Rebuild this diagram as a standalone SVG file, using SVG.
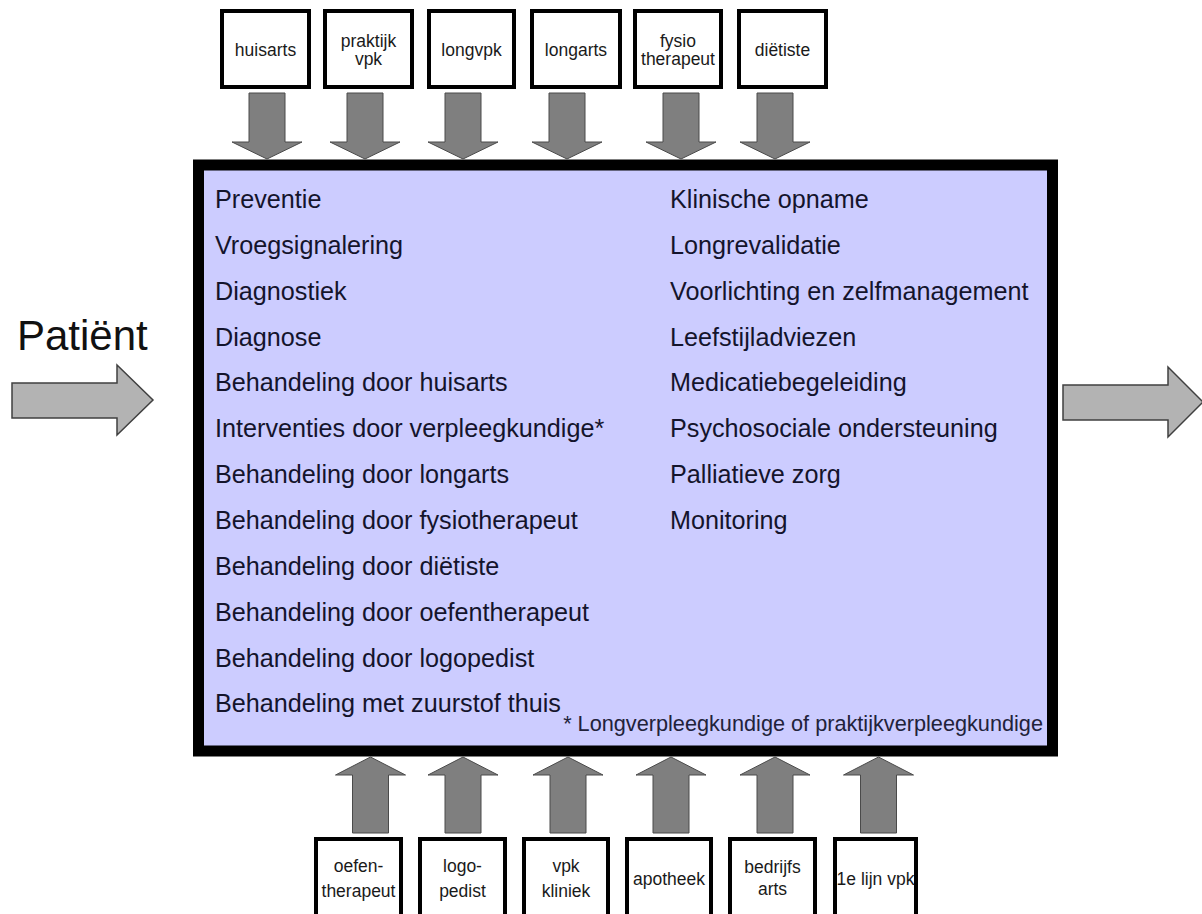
<svg xmlns="http://www.w3.org/2000/svg" xmlns:xlink="http://www.w3.org/1999/xlink" width="1202" height="914" viewBox="0 0 1202 914">
  <style>
    .box { fill: #ffffff; stroke: #000000; stroke-width: 4; }
    .lbl { font-family: "Liberation Sans", Arial, sans-serif; font-size: 17.5px; fill: #1a1a1a; text-anchor: middle; }
    .item { font-family: "Liberation Sans", Arial, sans-serif; font-size: 25.2px; fill: #14142c; }
    .note { font-family: "Liberation Sans", Arial, sans-serif; font-size: 21.7px; fill: #22223a; text-anchor: end; }
    .flow { fill: #7f7f7f; stroke: #4a4a4a; stroke-width: 1; }
    .big { fill: #b3b3b3; stroke: #404040; stroke-width: 1.5; }
  </style>
  <defs>
    <!-- block arrows: shaft 36 wide, flat head 70 wide -->
    <path id="arrDown" d="M-18,0 H18 V49 H35 L0,66 L-35,49 H-18 Z"/>
    <path id="arrUp" d="M0,0 L35,18 H18 V76 H-18 V18 H-35 Z"/>
  </defs>

  <rect width="1202" height="914" fill="#ffffff"/>

  <!-- care programme block -->
  <g id="zorgprogramma">
    <rect x="198.5" y="165" width="854" height="586" fill="#ccccff" stroke="#000000" stroke-width="11"/>
    <g class="item">
      <text x="215" y="208">Preventie</text>
      <text x="215" y="253.8">Vroegsignalering</text>
      <text x="215" y="299.7">Diagnostiek</text>
      <text x="215" y="345.5">Diagnose</text>
      <text x="215" y="391.4">Behandeling door huisarts</text>
      <text x="215" y="437.2">Interventies door verpleegkundige*</text>
      <text x="215" y="483.1">Behandeling door longarts</text>
      <text x="215" y="529">Behandeling door fysiotherapeut</text>
      <text x="215" y="574.8">Behandeling door diëtiste</text>
      <text x="215" y="620.6">Behandeling door oefentherapeut</text>
      <text x="215" y="666.5">Behandeling door logopedist</text>
      <text x="215" y="712.3">Behandeling met zuurstof thuis</text>

      <text x="670" y="208">Klinische opname</text>
      <text x="670" y="253.8">Longrevalidatie</text>
      <text x="670" y="299.7">Voorlichting en zelfmanagement</text>
      <text x="670" y="345.5">Leefstijladviezen</text>
      <text x="670" y="391.4">Medicatiebegeleiding</text>
      <text x="670" y="437.2">Psychosociale ondersteuning</text>
      <text x="670" y="483.1">Palliatieve zorg</text>
      <text x="670" y="529">Monitoring</text>
    </g>
    <text class="note" x="1043" y="731">* Longverpleegkundige of praktijkverpleegkundige</text>
  </g>

  <!-- patient entering and leaving -->
  <g id="patient">
    <text x="17" y="350" font-family="Liberation Sans, Arial, sans-serif" font-size="42" fill="#111111">Patiënt</text>
  </g>

  <!-- providers above -->
  <g id="huisarts">
    <rect class="box" x="222" y="11" width="87" height="76"/>
    <text class="lbl" x="265.5" y="56">huisarts</text>
  </g>
  <g id="praktijkvpk">
    <rect class="box" x="325" y="11" width="87" height="76"/>
    <text class="lbl" x="368.5" y="47">praktijk</text>
    <text class="lbl" x="368.5" y="65">vpk</text>
  </g>
  <g id="longvpk">
    <rect class="box" x="429" y="11" width="85" height="76"/>
    <text class="lbl" x="471.5" y="56">longvpk</text>
  </g>
  <g id="longarts">
    <rect class="box" x="532" y="11" width="88" height="76"/>
    <text class="lbl" x="576" y="56">longarts</text>
  </g>
  <g id="fysiotherapeut">
    <rect class="box" x="635" y="11" width="86" height="76"/>
    <text class="lbl" x="678" y="47">fysio</text>
    <text class="lbl" x="678" y="65">therapeut</text>
  </g>
  <g id="dietiste">
    <rect class="box" x="739" y="11" width="87" height="76"/>
    <text class="lbl" x="782.5" y="56">diëtiste</text>
  </g>

  <!-- providers below -->
  <g id="oefentherapeut">
    <rect class="box" x="316" y="839" width="85" height="84"/>
    <text class="lbl" x="358.5" y="872">oefen-</text>
    <text class="lbl" x="358.5" y="897">therapeut</text>
  </g>
  <g id="logopedist">
    <rect class="box" x="420" y="839" width="85" height="84"/>
    <text class="lbl" x="462.5" y="872">logo-</text>
    <text class="lbl" x="462.5" y="897">pedist</text>
  </g>
  <g id="vpkkliniek">
    <rect class="box" x="524" y="839" width="84" height="84"/>
    <text class="lbl" x="566" y="872">vpk</text>
    <text class="lbl" x="566" y="897">kliniek</text>
  </g>
  <g id="apotheek">
    <rect class="box" x="627" y="839" width="84" height="84"/>
    <text class="lbl" x="669" y="885">apotheek</text>
  </g>
  <g id="bedrijfsarts">
    <rect class="box" x="730" y="839" width="85" height="84"/>
    <text class="lbl" x="772.5" y="873">bedrijfs</text>
    <text class="lbl" x="772.5" y="895">arts</text>
  </g>
  <g id="eerstelijnvpk">
    <rect class="box" x="835" y="839" width="81" height="84"/>
    <text class="lbl" x="875.5" y="885">1e lijn vpk</text>
  </g>

  <!-- connectors -->
  <g id="connectors">
    <g class="flow">
      <use xlink:href="#arrDown" transform="translate(267,93)"/>
      <use xlink:href="#arrDown" transform="translate(365,93)"/>
      <use xlink:href="#arrDown" transform="translate(463,93)"/>
      <use xlink:href="#arrDown" transform="translate(567,93)"/>
      <use xlink:href="#arrDown" transform="translate(681,93)"/>
      <use xlink:href="#arrDown" transform="translate(775,93)"/>

      <use xlink:href="#arrUp" transform="translate(370.5,757)"/>
      <use xlink:href="#arrUp" transform="translate(463,757)"/>
      <use xlink:href="#arrUp" transform="translate(568,757)"/>
      <use xlink:href="#arrUp" transform="translate(671,757)"/>
      <use xlink:href="#arrUp" transform="translate(775,757)"/>
      <use xlink:href="#arrUp" transform="translate(878.5,757)"/>
    </g>
    <path class="big" d="M12,383 H117 V365 L153,400 L117,435 V418 H12 Z"/>
    <path class="big" d="M1063,385 H1168 V367 L1203,402 L1168,437 V420 H1063 Z"/>
  </g>
</svg>
